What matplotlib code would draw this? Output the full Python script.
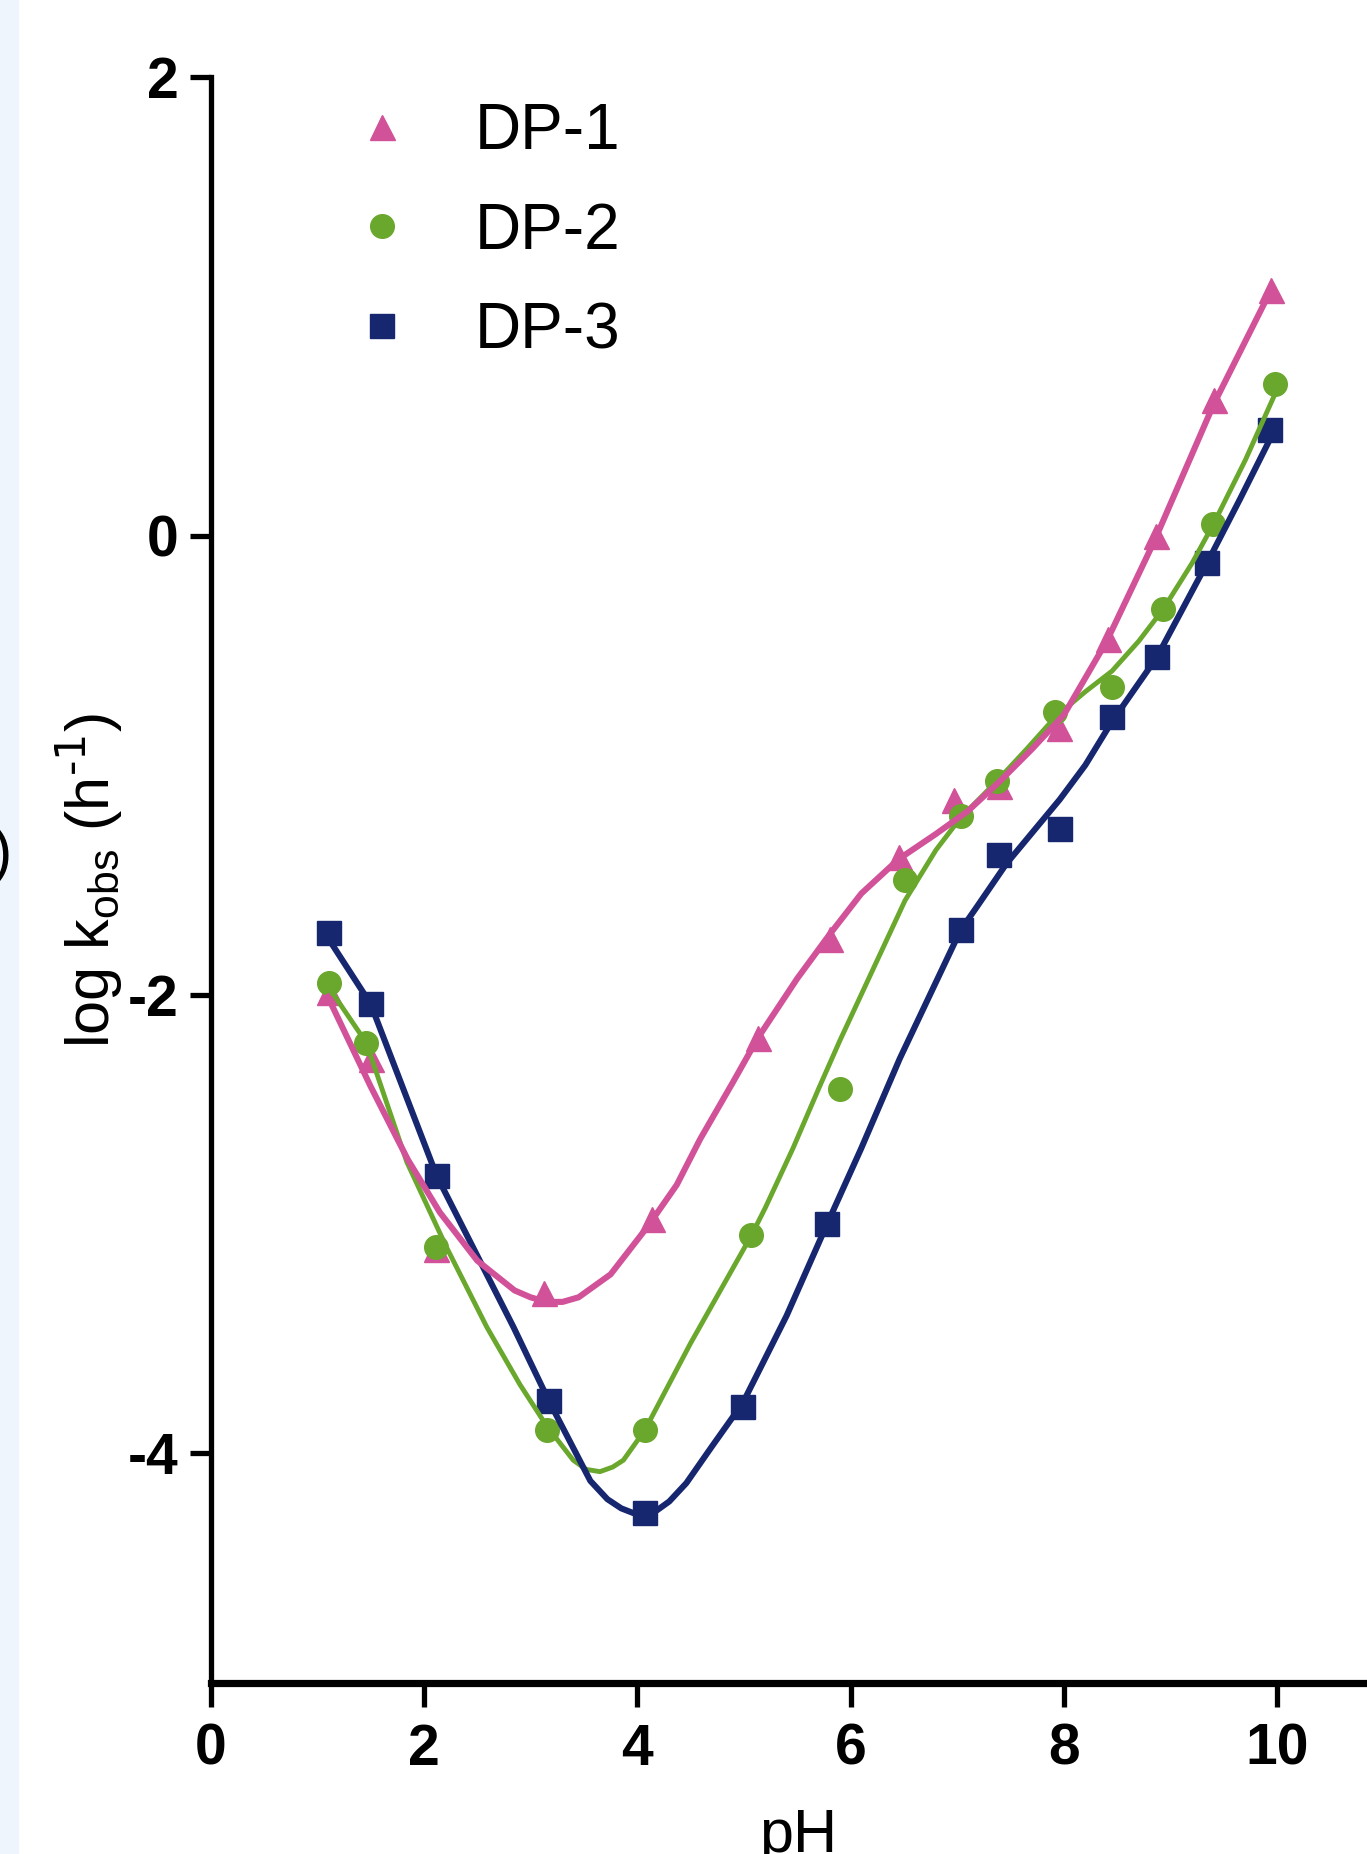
import matplotlib
matplotlib.use("Agg")
import matplotlib.pyplot as plt
from matplotlib.patches import Rectangle

# measured points (pH, log kobs)
ph_dp1 = [1.11, 1.50, 2.11, 3.13, 4.14, 5.13, 5.81, 6.45, 6.97, 7.39, 7.95, 8.41, 8.86, 9.41, 9.94]
k_dp1 = [-1.99, -2.28, -3.11, -3.30, -2.98, -2.19, -1.76, -1.40, -1.15, -1.09, -0.84, -0.45, 0.00, 0.59, 1.07]

ph_dp2 = [1.11, 1.46, 2.11, 3.15, 4.07, 5.07, 5.90, 6.51, 7.03, 7.37, 7.92, 8.45, 8.93, 9.40, 9.98]
k_dp2 = [-1.95, -2.21, -3.10, -3.90, -3.90, -3.05, -2.41, -1.50, -1.22, -1.07, -0.77, -0.66, -0.32, 0.05, 0.66]

ph_dp3 = [1.11, 1.50, 2.12, 3.17, 4.07, 4.99, 5.78, 7.03, 7.39, 7.96, 8.45, 8.87, 9.34, 9.93]
k_dp3 = [-1.73, -2.04, -2.79, -3.77, -4.26, -3.80, -3.00, -1.72, -1.39, -1.28, -0.79, -0.53, -0.12, 0.46]

# fitted curves
fit_ph_dp1 = [1.10, 1.50, 1.85, 2.15, 2.50, 2.85, 3.00, 3.15, 3.30, 3.45, 3.75, 4.10, 4.37, 4.59, 4.90, 5.13,
              5.50, 5.80, 6.10, 6.45, 6.80, 7.10, 7.40, 7.70, 8.00, 8.40, 8.85, 9.40, 9.95]
fit_k_dp1 = [-2.01, -2.40, -2.72, -2.95, -3.16, -3.29, -3.32, -3.34, -3.34, -3.32, -3.22, -3.01, -2.83, -2.63, -2.38, -2.19,
             -1.93, -1.74, -1.56, -1.41, -1.30, -1.20, -1.07, -0.93, -0.78, -0.46, -0.02, 0.57, 1.08]

fit_ph_dp2 = [1.11, 1.46, 1.84, 2.21, 2.59, 2.90, 3.15, 3.40, 3.52, 3.65, 3.77, 3.87, 4.07, 4.50, 5.07, 5.20, 5.46,
              5.71, 5.90, 6.20, 6.51, 6.80, 7.03, 7.37, 7.65, 7.92, 8.20, 8.45, 8.70, 8.93, 9.20, 9.40,
              9.70, 9.98]
fit_k_dp2 = [-1.97, -2.21, -2.73, -3.10, -3.45, -3.70, -3.88, -4.03, -4.07, -4.08, -4.06, -4.03, -3.90, -3.52, -3.05, -2.93, -2.67,
             -2.40, -2.20, -1.90, -1.59, -1.37, -1.23, -1.07, -0.93, -0.79, -0.68, -0.59, -0.46, -0.32, -0.12, 0.05,
             0.33, 0.62]

fit_ph_dp3 = [1.11, 1.50, 2.12, 2.84, 3.17, 3.56, 3.72, 3.85, 3.96, 4.07, 4.18, 4.30, 4.46, 4.70, 4.99, 5.40, 5.78, 6.10,
              6.46, 7.03, 7.18, 7.46, 7.96, 8.20, 8.45, 8.87, 9.34, 9.65, 9.93]
fit_k_dp3 = [-1.76, -2.04, -2.79, -3.45, -3.77, -4.12, -4.20, -4.24, -4.26, -4.27, -4.25, -4.21, -4.13, -3.97, -3.78, -3.40, -3.00, -2.67,
             -2.28, -1.72, -1.62, -1.43, -1.15, -1.00, -0.81, -0.53, -0.12, 0.16, 0.42]

labels = ["DP-1", "DP-2", "DP-3"]
pink = "#D15299"
green = "#6AA72D"
navy = "#16266F"
fam = ["Liberation Sans", "DejaVu Sans"]

W, H = 1367, 1854
fig = plt.figure(figsize=(W / 100, H / 100), dpi=100)
fig.patches.append(Rectangle((0, 0), 18 / W, 1, transform=fig.transFigure,
                             color="#EEF5FD", zorder=0))

ax = fig.add_axes([210.5 / W, 1 - 1682.7 / H, (W - 210.5) / W, (1682.7 - 76.9) / H])

# markers under the lines
h1, = ax.plot(ph_dp1, k_dp1, "^", ms=18, color=pink, zorder=2, label=labels[0])
h2, = ax.plot(ph_dp2, k_dp2, "o", ms=17, color=green, zorder=2, label=labels[1])
h3, = ax.plot(ph_dp3, k_dp3, "s", ms=17, color=navy, zorder=2, label=labels[2])

ax.plot(fit_ph_dp2, fit_k_dp2, "-", lw=3.5, color=green, zorder=3, solid_joinstyle="round")
ax.plot(fit_ph_dp3, fit_k_dp3, "-", lw=4.4, color=navy, zorder=3, solid_joinstyle="round")
ax.plot(fit_ph_dp1, fit_k_dp1, "-", lw=4.4, color=pink, zorder=3, solid_joinstyle="round")

ax.set_xlim(0, 10.84)
ax.set_ylim(-5, 2)
ax.set_xticks([0, 2, 4, 6, 8, 10])
ax.set_yticks([-4, -2, 0, 2])
ax.set_yticklabels(["-4", "-2", "0", "2"])

for s in ["top", "right"]:
    ax.spines[s].set_visible(False)
ax.spines["left"].set_linewidth(3.8)
ax.spines["bottom"].set_linewidth(5.2)
ax.tick_params(axis="y", direction="out", length=15, width=3.8, pad=8)
ax.tick_params(axis="x", direction="out", length=17, width=3.8, pad=12)
for t in ax.get_xticklabels() + ax.get_yticklabels():
    t.set_fontfamily(fam)
    t.set_fontweight("bold")
    t.set_fontsize(41)

ax.legend(handles=[h1, h2, h3], loc="upper left",
          bbox_to_anchor=(350 / W, 1 - 102 / H), bbox_transform=fig.transFigure,
          frameon=False, borderaxespad=0, borderpad=0,
          handlelength=1.0, handletextpad=0.95, labelspacing=0.62,
          prop={"family": fam, "size": 46})

fig.text(89 / W, 1 - 880 / H, r"log k$_\mathregular{obs}$ (h$^\text{-1}$)",
         rotation=90, ha="center", va="center", fontsize=44, family=fam)
fig.text(798 / W, 2 / H, "pH", ha="center", va="baseline", fontsize=44, family=fam)
fig.text(12 / W, 1 - 855 / H, ")", ha="right", va="center", fontsize=44, family=fam)

fig.savefig("out.png", dpi=100)
